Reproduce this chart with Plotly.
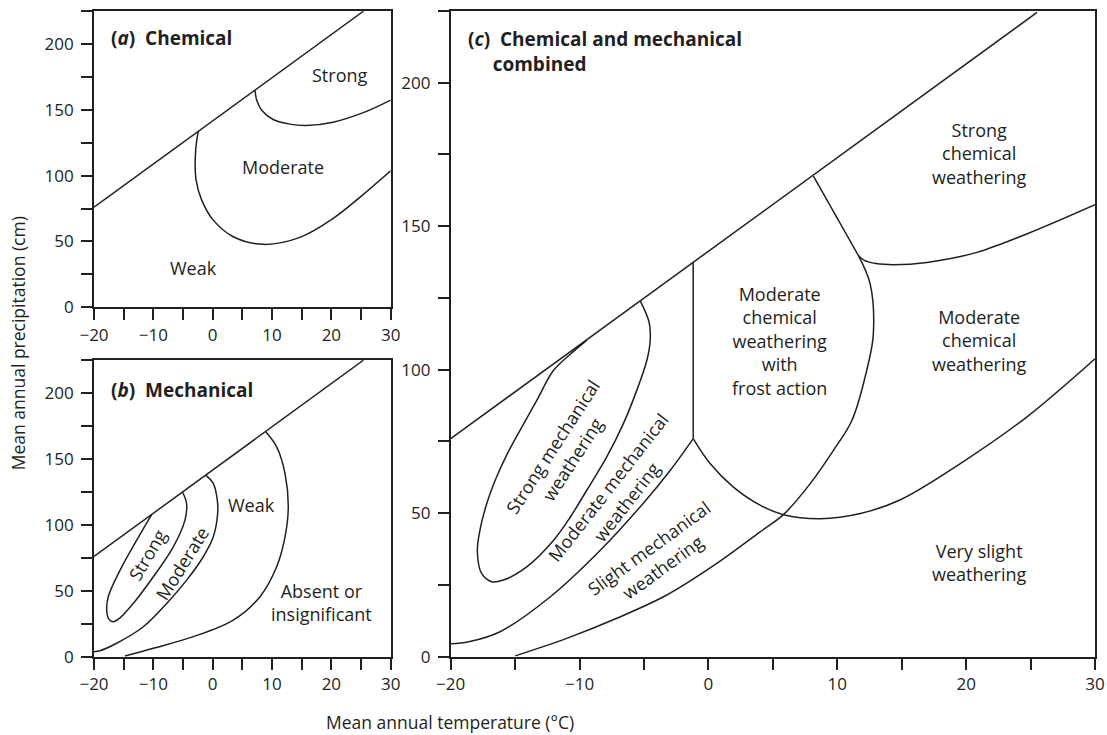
import plotly.graph_objects as go

# ---------------- data ----------------
X_TICKS = [-20, -15, -10, -5, 0, 5, 10, 15, 20, 25, 30]
X_TICK_TEXT = ["−20", "", "−10", "", "0", "", "10", "", "20", "", "30"]
Y_TICKS = [0, 25, 50, 75, 100, 125, 150, 175, 200, 225]
Y_TICK_TEXT = ["0", "", "50", "", "100", "", "150", "", "200", ""]

# Panel (a) Chemical
A_LIMIT_X = [-20, 25.4]
A_LIMIT_Y = [76, 224.8]
A_STRONG_X = [7.13, 7.42, 8.26, 10.2, 13.0, 15.8, 20.3, 25.5, 30]
A_STRONG_Y = [164.9, 157.3, 149.7, 142.6, 139.1, 138.1, 140.6, 148.0, 157.3]
A_MOD_X = [-2.42, -2.86, -2.81, -1.85, 0.1, 3.47, 8.53, 14.7, 20.3, 25.2, 30]
A_MOD_Y = [133.8, 119.7, 96.9, 81.4, 66.2, 53.6, 47.8, 53.1, 67.5, 85.0, 103.6]

# Panel (b) Mechanical
B_LIMIT_X = [-20, 25.4]
B_LIMIT_Y = [76, 224.8]
B_STRONG_X = [-5.05, -4.4, -4.67, -6.64, -10.0, -13.38, -15.6, -16.75, -17.5, -17.86, -17.6,
              -15.6, -12.8, -10.28]
B_STRONG_Y = [124.5, 116.2, 103.6, 83.3, 60.6, 40.4, 29.5, 26.5, 28.5, 35.4, 45.5,
              65.7, 88.4, 107.8]
B_MOD_X = [-1.18, 0.1, 0.78, 0.84, 0.1, -1.58, -4.38, -7.75, -11.69, -16.18, -19, -20]
B_MOD_Y = [137.7, 131.4, 118.7, 108.6, 90.9, 75.8, 58.1, 40.4, 22.7, 10.2, 4.5, 3.8]
B_WEAK_X = [8.93, 10.78, 12.19, 12.74, 12.19, 10.78, 7.97, 3.47, -3.27, -10.0, -14.78]
B_WEAK_Y = [170.5, 159.1, 138.9, 113.6, 90.9, 68.2, 45.5, 27.8, 15.2, 6.4, 0.5]

# Panel (c) Chemical and mechanical combined
C_LIMIT_X = [-20, 25.5]
C_LIMIT_Y = [76, 224.5]
C_VERT_X = [-1.18, -1.18]
C_VERT_Y = [137.4, 76.0]
C_STRONG_MECH_X = [-5.3, -4.6, -4.52, -4.78, -5.56, -6.6, -7.89, -9.44, -10.74, -12.03, -14.1,
                   -15.92, -16.82, -17.6, -17.93, -17.73, -17.2, -16.48, -15.63, -14.62, -13.32,
                   -12.03, -10.74, -9.43]
C_STRONG_MECH_Y = [124.1, 116.5, 110.1, 103.2, 92.8, 81.2, 69.6, 58.0, 48.5, 40.5, 31.3,
                   26.7, 26.1, 29.0, 36.5, 44.1, 53.4, 62.2, 70.5, 78.9, 89.3,
                   99.7, 105.3, 110.3]
C_MOD_MECH_X = [-1.18, -2.97, -5.05, -8.41, -12.29, -16.17, -18.6, -20]
C_MOD_MECH_Y = [76.0, 64.9, 53.5, 37.0, 20.8, 8.7, 5.2, 4.5]
C_CHEM_MOD_X = [-1.18, 0.13, 1.94, 4.01, 5.82, 8.68, 11.79, 14.9, 19.55, 24.7, 30]
C_CHEM_MOD_Y = [76.0, 67.3, 59.1, 52.8, 49.5, 48.1, 49.9, 54.7, 67.3, 83.5, 103.8]
C_FROST_X = [11.65, 12.55, 12.8, 12.4, 11.13, 9.7, 7.9, 5.82, 4.01, 0.65, -3.23, -7.11, -11.0, -15.0]
C_FROST_Y = [139.7, 129.9, 112.5, 102.0, 82.3, 71.9, 60.3, 49.5, 43.5, 32.5, 21.5, 13.4, 6.4, 0.3]
C_SPLIT_X = [8.15, 11.65]
C_SPLIT_Y = [167.5, 139.7]
C_STRONG_CHEM_X = [11.65, 12.1, 13.0, 14.36, 16.96, 20.84, 24.7, 30]
C_STRONG_CHEM_Y = [139.7, 138.1, 137.0, 136.6, 137.4, 140.9, 147.3, 157.5]

# ---------------- styling ----------------
INK = "#231f20"
FONT = "Open Sans"
LW = 1.5
LABEL_SIZE = 18

fig = go.Figure()


def curve(xs, ys, ax, spline=True):
    fig.add_trace(go.Scatter(
        x=xs, y=ys, mode="lines", xaxis="x" + ax, yaxis="y" + ax,
        line=dict(color=INK, width=LW, shape="spline" if spline else "linear", smoothing=1.0),
        hoverinfo="skip", showlegend=False))


# (a)
curve(A_LIMIT_X, A_LIMIT_Y, "", spline=False)
curve(A_STRONG_X, A_STRONG_Y, "")
curve(A_MOD_X, A_MOD_Y, "")
# (b)
curve(B_LIMIT_X, B_LIMIT_Y, "2", spline=False)
curve(B_STRONG_X, B_STRONG_Y, "2")
curve(B_MOD_X, B_MOD_Y, "2")
curve(B_WEAK_X, B_WEAK_Y, "2")
# (c)
curve(C_LIMIT_X, C_LIMIT_Y, "3", spline=False)
curve(C_VERT_X, C_VERT_Y, "3", spline=False)
curve(C_STRONG_MECH_X, C_STRONG_MECH_Y, "3")
curve(C_MOD_MECH_X, C_MOD_MECH_Y, "3")
curve(C_CHEM_MOD_X, C_CHEM_MOD_Y, "3")
curve(C_FROST_X, C_FROST_Y, "3")
curve(C_SPLIT_X, C_SPLIT_Y, "3", spline=False)
curve(C_STRONG_CHEM_X, C_STRONG_CHEM_Y, "3")


def xaxis(domain, anchor):
    return dict(domain=domain, anchor=anchor, range=[-20, 30], tickmode="array",
                tickvals=X_TICKS, ticktext=X_TICK_TEXT, ticks="outside", ticklen=11,
                tickwidth=1.5, tickcolor=INK, showline=True, mirror=True, linecolor=INK,
                linewidth=1.8, showgrid=False, zeroline=False, automargin=False,
                tickfont=dict(family=FONT, size=17, color=INK))


def yaxis(domain, anchor):
    return dict(domain=domain, anchor=anchor, range=[0, 225], tickmode="array",
                tickvals=Y_TICKS, ticktext=Y_TICK_TEXT, ticks="outside", ticklen=11,
                tickwidth=1.5, tickcolor=INK, showline=True, mirror=True, linecolor=INK,
                linewidth=1.8, showgrid=False, zeroline=False, automargin=False,
                ticklabelstandoff=4,
                tickfont=dict(family=FONT, size=17, color=INK))


W, H = 1107, 735
xa = [94 / W, 390.7 / W]
xc = [450.7 / W, 1095 / W]
ya = [1 - 307.3 / H, 1 - 11 / H]
yb = [1 - 656.7 / H, 1 - 360 / H]
yc = [1 - 656.7 / H, 1 - 11 / H]

annotations = []


def label(text, x, y, ax, size=LABEL_SIZE, angle=0, xanchor="center", align="center"):
    annotations.append(dict(
        text=text, x=x, y=y, xref="x" + ax, yref="y" + ax, showarrow=False,
        textangle=angle, xanchor=xanchor, yanchor="middle", align=align,
        font=dict(family=FONT, size=size, color=INK)))


# Panel titles
label("<b>(<i>a</i>)  Chemical</b>", -17.4, 204.5, "", size=19, xanchor="left")
label("<b>(<i>b</i>)  Mechanical</b>", -17.4, 202, "2", size=19, xanchor="left")
label("<b>(<i>c</i>)  Chemical and mechanical<br>\u00a0\u00a0\u00a0\u00a0\u00a0combined</b>",
      -18.8, 210.8, "3", size=19, xanchor="left", align="left")

# (a) region labels
label("Strong", 21.4, 176.2, "")
label("Moderate", 11.9, 106.7, "")
label("Weak", -3.3, 29.6, "")
# (b) region labels
label("Weak", 6.6, 114.9, "2")
label("Absent or<br>insignificant", 18.3, 41.0, "2")
label("Strong", -11.1, 77.5, "2", angle=-60)
label("Moderate", -5.1, 71.0, "2", angle=-58)
# (c) region labels
label("Strong<br>chemical<br>weathering", 21.0, 175.5, "3")
label("Moderate<br>chemical<br>weathering", 21.0, 110.2, "3")
label("Moderate<br>chemical<br>weathering<br>with<br>frost action", 5.5, 110.0, "3")
label("Very slight<br>weathering", 21.0, 32.9, "3")
label("Strong mechanical<br>weathering", -11.3, 71.0, "3", angle=-57)
label("Moderate mechanical<br>weathering", -7.1, 56.6, "3", angle=-52)
label("Slight mechanical<br>weathering", -4.1, 34.4, "3", angle=-36)

# Axis titles
annotations.append(dict(text="Mean annual precipitation (cm)", x=18.3 / W, y=1 - 343 / H,
                        xref="paper", yref="paper", showarrow=False, textangle=-90,
                        xanchor="center", yanchor="middle",
                        font=dict(family=FONT, size=17.5, color=INK)))
annotations.append(dict(text="Mean annual temperature (°C)", x=450 / W, y=1 - 722 / H,
                        xref="paper", yref="paper", showarrow=False,
                        xanchor="center", yanchor="middle",
                        font=dict(family=FONT, size=17.5, color=INK)))

fig.update_layout(
    width=W, height=H, margin=dict(l=0, r=0, t=0, b=0),
    paper_bgcolor="white", plot_bgcolor="white",
    xaxis=xaxis(xa, "y"), yaxis=yaxis(ya, "x"),
    xaxis2=xaxis(xa, "y2"), yaxis2=yaxis(yb, "x2"),
    xaxis3=xaxis(xc, "y3"), yaxis3=yaxis(yc, "x3"),
    annotations=annotations, showlegend=False,
)

fig.write_html("out.html", config={"displayModeBar": False},
               post_script="document.body.style.margin='0px';document.body.style.padding='0px';")
